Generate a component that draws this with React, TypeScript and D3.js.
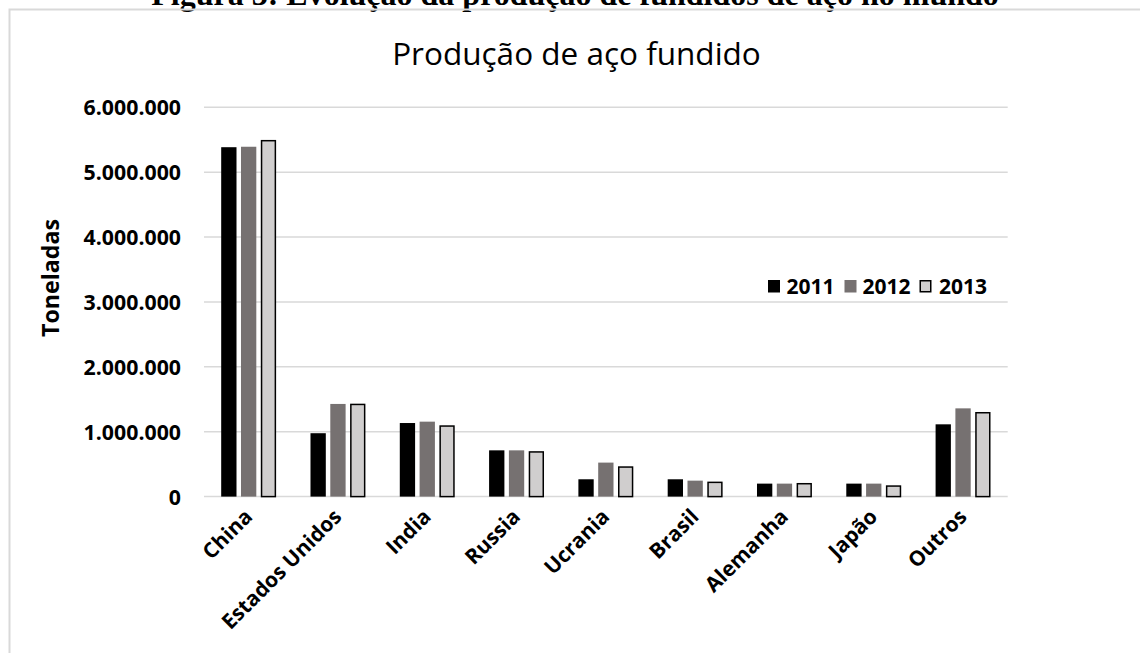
import React from "react";
import * as d3 from "d3";

// Produção de aço fundido por país (toneladas)
const categories = ["China", "Estados Unidos", "India", "Russia", "Ucrania", "Brasil", "Alemanha", "Japão", "Outros"];
const years = ["2011", "2012", "2013"];
const values2011 = [5385000, 977000, 1134000, 713000, 267000, 267000, 200000, 200000, 1114000];
const values2012 = [5392000, 1428000, 1155000, 713000, 524000, 246000, 200000, 200000, 1360000];
const values2013 = [5497000, 1432000, 1099000, 700000, 467000, 231000, 210000, 174000, 1304000];
const yTicks = [0, 1000000, 2000000, 3000000, 4000000, 5000000, 6000000];

const seriesValues = [values2011, values2012, values2013];
const fills = ["#000000", "#767171", "#d0cece"];
const strokes = ["none", "none", "#000000"];

const W = 1140;
const H = 653;
const sans = "'Open Sans', 'DejaVu Sans', sans-serif";

const fmt = (v: number) => d3.format(",")(v).replace(/,/g, ".");

export default function App() {
  const x0 = d3
    .scaleBand<string>()
    .domain(categories)
    .range([204, 1007.7])
    .paddingInner(0.385)
    .paddingOuter(0.1925);
  const x1 = d3
    .scaleBand<string>()
    .domain(years)
    .range([0, x0.bandwidth()])
    .paddingInner(0.227);
  const y = d3.scaleLinear().domain([0, 6000000]).range([496.6, 107.3]);

  const legendX = [768, 844.5, 919.5];
  const legendTextX = [786.5, 862.5, 939];

  return (
    <div style={{ position: "absolute", left: 0, top: 0 }}>
      <svg width={W} height={H} style={{ display: "block", background: "#ffffff" }}>
        {/* figure caption, partly above the frame */}
        <text
          x={575}
          y={4.5}
          textAnchor="middle"
          fontFamily="'Liberation Serif', 'Times New Roman', serif"
          fontWeight="bold"
          fontSize={32}
          fill="#000"
        >
          Figura 3: Evolução da produção de fundidos de aço no mundo
        </text>

        {/* chart frame */}
        <rect x={9.5} y={9.5} width={W + 20} height={H + 20} fill="none" stroke="#d9d9d9" strokeWidth={2} />

        {/* title */}
        <text x={576.5} y={65} textAnchor="middle" fontFamily={sans} fontSize={31.5} fill="#000">
          Produção de aço fundido
        </text>

        {/* gridlines */}
        {yTicks.map((t) => (
          <line
            key={"g" + t}
            x1={204}
            x2={1007.7}
            y1={y(t)}
            y2={y(t)}
            stroke="#d9d9d9"
            strokeWidth={1.5}
          />
        ))}

        {/* y tick labels */}
        {yTicks.map((t) => (
          <text
            key={"t" + t}
            x={181}
            y={y(t) + 8}
            textAnchor="end"
            fontFamily={sans}
            fontWeight="bold"
            fontSize={21.3}
            fill="#000"
          >
            {fmt(t)}
          </text>
        ))}

        {/* y axis title */}
        <text
          transform="translate(59.3,278) rotate(-90)"
          textAnchor="middle"
          fontFamily={sans}
          fontWeight="bold"
          fontSize={23.2}
          fill="#000"
        >
          Toneladas
        </text>

        {/* bars */}
        {categories.map((c, i) => (
          <g key={c} transform={`translate(${x0(c)},0)`}>
            {years.map((yr, s) => {
              const v = seriesValues[s][i];
              const inset = s === 2 ? 0.75 : 0;
              return (
                <rect
                  key={yr}
                  x={(x1(yr) as number) + inset}
                  y={y(v) + inset}
                  width={x1.bandwidth() - 2 * inset}
                  height={y(0) - y(v) - inset}
                  fill={fills[s]}
                  stroke={strokes[s]}
                  strokeWidth={1.5}
                />
              );
            })}
          </g>
        ))}

        {/* category labels */}
        {categories.map((c) => (
          <text
            key={"l" + c}
            transform={`translate(${(x0(c) as number) + x0.bandwidth() / 2 + 5},518) rotate(-45)`}
            textAnchor="end"
            fontFamily={sans}
            fontWeight="bold"
            fontSize={21}
            fill="#000"
          >
            {c}
          </text>
        ))}

        {/* legend */}
        {years.map((yr, s) => (
          <g key={"lg" + yr}>
            <rect
              x={legendX[s] + (s === 2 ? 0.75 : 0)}
              y={280 + (s === 2 ? 0.75 : 0)}
              width={12 - (s === 2 ? 1.5 : 0)}
              height={12.5 - (s === 2 ? 1.5 : 0)}
              fill={fills[s]}
              stroke={strokes[s]}
              strokeWidth={1.5}
            />
            <text
              x={legendTextX[s]}
              y={293.5}
              fontFamily={sans}
              fontWeight="bold"
              fontSize={21}
              fill="#000"
            >
              {yr}
            </text>
          </g>
        ))}
      </svg>
    </div>
  );
}
